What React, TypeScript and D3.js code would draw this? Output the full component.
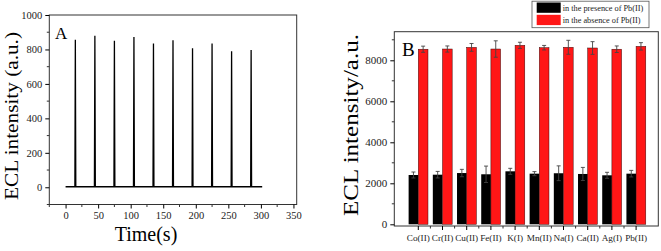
import React, { useRef, useEffect } from 'react';
import * as d3 from 'd3';

// panel A: ECL signal vs time
const peakTimes = [15, 45, 75, 105, 135, 165, 195, 225, 255, 285];
const peakHeights = [857, 880, 851, 872, 834, 853, 807, 834, 790, 797];
const traceStart = 0;
const traceEnd = 302;
const baseline = 3;
const timeTicks = [0, 50, 100, 150, 200, 250, 300, 350];
const intensityTicks = [0, 200, 400, 600, 800, 1000];

// panel B: interference ions
const ions = ['Co(II)', 'Cr(II)', 'Cu(II)', 'Fe(II)', 'K(I)', 'Mn(II)', 'Na(I)', 'Ca(II)', 'Ag(I)', 'Pb(II)'];
const presence = [2405, 2420, 2500, 2440, 2585, 2470, 2490, 2455, 2390, 2470];
const presenceErr = [146, 160, 180, 400, 146, 100, 360, 320, 146, 160];
const absence = [8540, 8550, 8630, 8550, 8730, 8615, 8635, 8600, 8540, 8680];
const absenceErr = [150, 150, 190, 400, 150, 110, 340, 310, 160, 180];
const eclTicks = [0, 2000, 4000, 6000, 8000];
const legendLabels = ['in the presence of Pb(II)', 'in the absence of Pb(II)'];

const FONT = '"Liberation Serif", "Times New Roman", serif';
const RED = '#ff1616';
const fmt = d3.format('d');

function App() {
  const svgRef = useRef<SVGSVGElement>(null);

  useEffect(() => {
    const svg = d3.select(svgRef.current);
    svg.selectAll('*').remove();

    // ---------- panel A ----------
    const ax = d3.scaleLinear().domain([-25, 355]).range([49.3, 296.7]);
    const ay = d3.scaleLinear().domain([-100, 1000]).range([204.5, 15]);

    const gA = svg.append('g');
    gA.append('rect')
      .attr('x', ax.range()[0]).attr('y', ay.range()[1])
      .attr('width', ax.range()[1] - ax.range()[0])
      .attr('height', ay.range()[0] - ay.range()[1])
      .attr('fill', 'none').attr('stroke', '#333').attr('stroke-width', 1);

    const axB = gA.append('g')
      .attr('transform', `translate(0,${ay.range()[0]})`)
      .call(d3.axisBottom(ax).tickValues(timeTicks).tickFormat(fmt as any).tickSize(4).tickSizeOuter(0).tickPadding(3));
    axB.select('.domain').remove();
    axB.attr('font-family', FONT).attr('font-size', 10.5);
    axB.selectAll('text').attr('fill', '#222');
    gA.append('g').selectAll('line')
      .data(d3.range(-25, 356, 50))
      .join('line')
      .attr('x1', d => ax(d)).attr('x2', d => ax(d))
      .attr('y1', ay.range()[0]).attr('y2', ay.range()[0] + 2.5)
      .attr('stroke', '#333');

    const axL = gA.append('g')
      .attr('transform', `translate(${ax.range()[0]},0)`)
      .call(d3.axisLeft(ay).tickValues(intensityTicks).tickFormat(fmt as any).tickSize(4).tickSizeOuter(0).tickPadding(3));
    axL.select('.domain').remove();
    axL.attr('font-family', FONT).attr('font-size', 10.5);
    axL.selectAll('text').attr('fill', '#222');
    gA.append('g').selectAll('line')
      .data(d3.range(-100, 1000, 200))
      .join('line')
      .attr('x1', ax.range()[0] - 2.5).attr('x2', ax.range()[0])
      .attr('y1', d => ay(d)).attr('y2', d => ay(d))
      .attr('stroke', '#333');

    const pts: [number, number][] = [[traceStart, baseline]];
    peakTimes.forEach((t, i) => {
      pts.push([t - 0.7, baseline], [t, peakHeights[i]], [t + 0.7, baseline]);
    });
    pts.push([traceEnd, baseline]);
    gA.append('path')
      .datum(pts)
      .attr('d', d3.line<[number, number]>().x(d => ax(d[0])).y(d => ay(d[1])))
      .attr('fill', 'none').attr('stroke', '#000').attr('stroke-width', 1.3);

    gA.append('text').attr('x', 55).attr('y', 38.5)
      .attr('font-family', FONT).attr('font-size', 17).text('A');
    gA.append('text').attr('x', 146).attr('y', 241).attr('text-anchor', 'middle')
      .attr('font-family', FONT).attr('font-size', 20).text('Time(s)');
    gA.append('text')
      .attr('transform', 'translate(17.5,116) rotate(-90)')
      .attr('text-anchor', 'middle')
      .attr('font-family', FONT).attr('font-size', 19)
      .attr('textLength', 168).attr('lengthAdjust', 'spacingAndGlyphs')
      .text('ECL intensity (a.u.)');

    // ---------- panel B ----------
    const bx = d3.scaleBand().domain(ions).range([406.2, 648.2]).padding(0);
    const by = d3.scaleLinear().domain([-83, 9395]).range([226, 31.7]);
    const left = 394.3, right = 658.3;
    const bw = bx.step() * 0.4;

    const gB = svg.append('g');
    gB.append('rect')
      .attr('x', left).attr('y', by.range()[1])
      .attr('width', right - left)
      .attr('height', by.range()[0] - by.range()[1])
      .attr('fill', 'none').attr('stroke', '#333').attr('stroke-width', 1);

    const groups = gB.append('g').selectAll('g')
      .data(ions)
      .join('g')
      .attr('transform', d => `translate(${bx(d)! + bx.bandwidth() / 2},0)`);

    groups.append('rect')
      .attr('x', -bw).attr('width', bw)
      .attr('y', (d, i) => by(presence[i]))
      .attr('height', (d, i) => by(0) - by(presence[i]))
      .attr('fill', '#000');
    groups.append('rect')
      .attr('x', 0).attr('width', bw)
      .attr('y', (d, i) => by(absence[i]))
      .attr('height', (d, i) => by(0) - by(absence[i]))
      .attr('fill', RED).attr('stroke', '#3a0a0a').attr('stroke-width', 0.5);

    const errBar = (sel: any, vals: number[], errs: number[], cx: number) => {
      sel.append('line')
        .attr('x1', cx).attr('x2', cx)
        .attr('y1', (d: string, i: number) => by(vals[i] - errs[i]))
        .attr('y2', (d: string, i: number) => by(vals[i] + errs[i]))
        .attr('stroke', '#444').attr('stroke-width', 0.9);
      [1, -1].forEach(s => {
        sel.append('line')
          .attr('x1', cx - 2).attr('x2', cx + 2)
          .attr('y1', (d: string, i: number) => by(vals[i] + s * errs[i]))
          .attr('y2', (d: string, i: number) => by(vals[i] + s * errs[i]))
          .attr('stroke', '#444').attr('stroke-width', 0.9);
      });
    };
    errBar(groups, presence, presenceErr, -bw / 2);
    errBar(groups, absence, absenceErr, bw / 2);

    const bxAxis = gB.append('g')
      .attr('transform', `translate(0,${by.range()[0]})`)
      .call(d3.axisBottom(bx).tickSize(4).tickSizeOuter(0).tickPadding(4));
    bxAxis.select('.domain').remove();
    bxAxis.attr('font-family', FONT).attr('font-size', 9.2);
    bxAxis.selectAll('text').attr('fill', '#222');
    gB.append('g').selectAll('line')
      .data(ions.slice(1))
      .join('line')
      .attr('x1', d => bx(d)!).attr('x2', d => bx(d)!)
      .attr('y1', by.range()[0]).attr('y2', by.range()[0] + 2.5)
      .attr('stroke', '#333');

    const byAxis = gB.append('g')
      .attr('transform', `translate(${left},0)`)
      .call(d3.axisLeft(by).tickValues(eclTicks).tickFormat(fmt as any).tickSize(4).tickSizeOuter(0).tickPadding(3));
    byAxis.select('.domain').remove();
    byAxis.attr('font-family', FONT).attr('font-size', 11);
    byAxis.selectAll('text').attr('fill', '#222');
    gB.append('g').selectAll('line')
      .data(d3.range(1000, 9395, 2000))
      .join('line')
      .attr('x1', left - 2.5).attr('x2', left)
      .attr('y1', d => by(d)).attr('y2', d => by(d))
      .attr('stroke', '#333');

    gB.append('text').attr('x', 402).attr('y', 56)
      .attr('font-family', FONT).attr('font-size', 19).text('B');
    gB.append('text')
      .attr('transform', 'translate(358,125) rotate(-90)')
      .attr('text-anchor', 'middle')
      .attr('font-family', FONT).attr('font-size', 21)
      .attr('textLength', 182).attr('lengthAdjust', 'spacingAndGlyphs')
      .text('ECL intensity/a.u.');

    // legend
    const lg = gB.append('g');
    lg.append('rect')
      .attr('x', 532).attr('y', 1.2).attr('width', 117).attr('height', 26.5)
      .attr('fill', '#fff').attr('stroke', '#555').attr('stroke-width', 0.8);
    legendLabels.forEach((lab, i) => {
      lg.append('rect')
        .attr('x', 536.7).attr('y', 2.5 + i * 12.3).attr('width', 24).attr('height', 10.3)
        .attr('fill', i === 0 ? '#000' : RED);
      lg.append('text')
        .attr('x', 562.7).attr('y', 10.5 + i * 12.3)
        .attr('font-family', FONT).attr('font-size', 8.3).attr('fill', '#222')
        .text(lab);
    });
  }, []);

  return (
    <svg ref={svgRef} width={661} height={251}
      style={{ position: 'absolute', left: 0, top: 0, background: '#fff' }} />
  );
}

export default App;
